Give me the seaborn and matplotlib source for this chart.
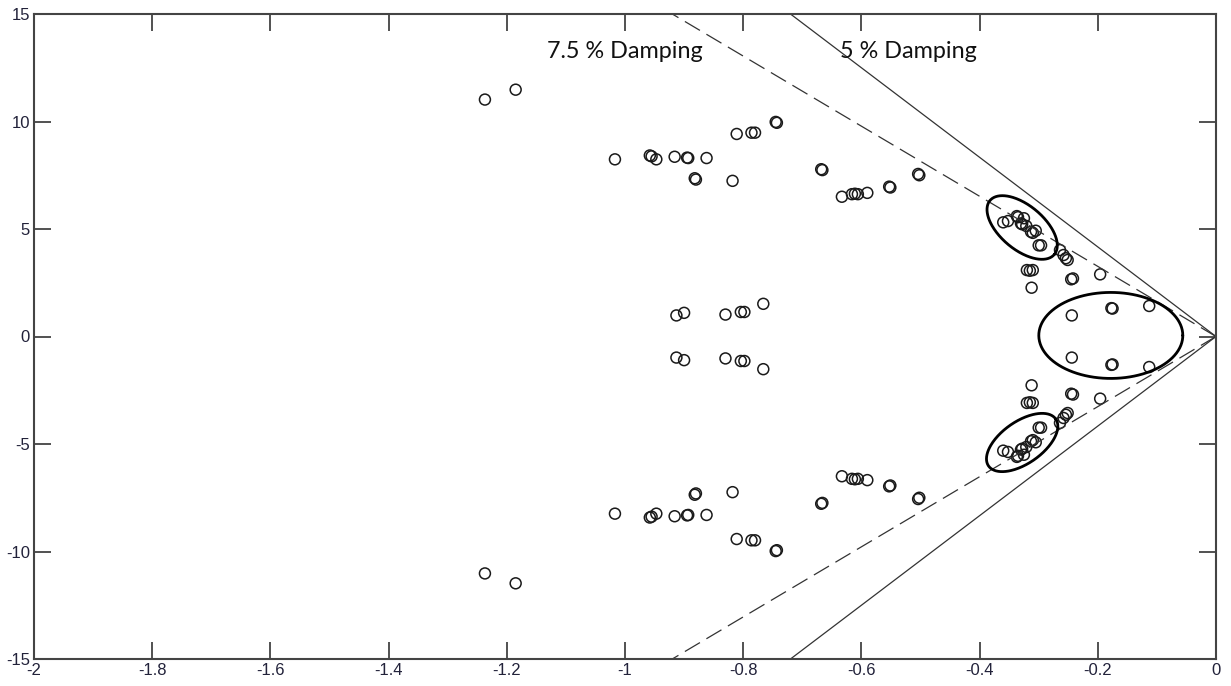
import numpy as np
import pandas as pd
import matplotlib
matplotlib.use("Agg")
import matplotlib.pyplot as plt
import seaborn as sns

# Upper-half eigenvalues (real part, imaginary part); the lower half are their conjugates
eig_real = [
    -1.237, -1.185,
    -1.017, -0.958, -0.955, -0.947, -0.916, -0.895, -0.893, -0.862,
    -0.882, -0.880, -0.818,
    -0.811, -0.786, -0.780,
    -0.745, -0.743,
    -0.668, -0.666,
    -0.633, -0.616, -0.611, -0.606, -0.590,
    -0.553, -0.551,
    -0.504, -0.502,
    -0.360, -0.352, -0.337, -0.335, -0.325, -0.330, -0.328, -0.321,
    -0.313, -0.310, -0.305, -0.300, -0.296,
    -0.264, -0.258, -0.254, -0.251,
    -0.320, -0.315, -0.310,
    -0.312,
    -0.245, -0.242,
    -0.196,
    -0.244,
    -0.177, -0.175,
    -0.113,
    -0.913, -0.900, -0.830, -0.804, -0.798, -0.766,
]
eig_imag = [
    11.02, 11.48,
    8.24, 8.42, 8.38, 8.24, 8.36, 8.32, 8.30, 8.30,
    7.36, 7.30, 7.24,
    9.42, 9.48, 9.48,
    9.98, 9.94,
    7.78, 7.74,
    6.50, 6.62, 6.64, 6.62, 6.68,
    6.97, 6.93,
    7.56, 7.50,
    5.31, 5.37, 5.60, 5.55, 5.50, 5.26, 5.22, 5.14,
    4.87, 4.82, 4.92, 4.24, 4.24,
    4.02, 3.79, 3.64, 3.56,
    3.09, 3.06, 3.09,
    2.27,
    2.66, 2.70,
    2.89,
    0.98,
    1.32, 1.30,
    1.42,
    0.98, 1.10, 1.02, 1.14, 1.14, 1.52,
]

# Damping boundary rays from the origin: real part reached at |imag| = 15
damping_labels = ["5 % Damping", "7.5 % Damping"]
damping_real_at_edge = [-0.72, -0.92]
damping_styles = ["-", "--"]
label_x = [-0.520, -1.0]
label_y = 13.25

x_ticks = [-2, -1.8, -1.6, -1.4, -1.2, -1, -0.8, -0.6, -0.4, -0.2, 0]
y_ticks = [-15, -10, -5, 0, 5, 10, 15]

df = pd.DataFrame({
    "real": np.concatenate([eig_real, eig_real]),
    "imag": np.concatenate([eig_imag, -np.array(eig_imag)]),
})

sns.set_style("white")
plt.rcParams["font.family"] = ["Liberation Sans", "DejaVu Sans"]
plt.rcParams["axes.unicode_minus"] = False

fig = plt.figure(figsize=(12.31, 6.86), dpi=100)
ax = fig.add_axes([34 / 1231, 1 - 659 / 686, 1182 / 1231, 645 / 686])

sns.scatterplot(data=df, x="real", y="imag", ax=ax, marker="o", s=62,
                facecolors="none", edgecolors="#1a1a1a", linewidth=1.1,
                legend=False)

for edge_x, style in zip(damping_real_at_edge, damping_styles):
    kw = dict(color="#333333", lw=0.9)
    if style == "--":
        kw["dashes"] = (14, 6)
    ax.plot([0, edge_x], [0, 15], style, **kw)
    ax.plot([0, edge_x], [0, -15], style, **kw)

for txt, lx in zip(damping_labels, label_x):
    ax.text(lx, label_y, txt, ha="center", va="center",
            fontsize=16.8, family=["Lato", "DejaVu Sans"], color="#111111")

# Highlight ellipses drawn in screen-pixel units around the centre points
px_per_x = 1182 / 2.0
px_per_y = 645 / 30.0
def pixel_ellipse(cx, cy, a, b, angle_deg):
    t = np.linspace(0, 2 * np.pi, 300)
    th = np.deg2rad(angle_deg)
    dx = a * np.cos(t) * np.cos(th) - b * np.sin(t) * np.sin(th)
    dy = a * np.cos(t) * np.sin(th) + b * np.sin(t) * np.cos(th)
    ax.plot(cx + dx / px_per_x, cy + dy / px_per_y, color="black", lw=2.0)

pixel_ellipse(-0.328, 5.07, 42, 22, -40)
pixel_ellipse(-0.328, -4.93, 41, 21, 35)
pixel_ellipse(-0.178, 0.05, 72, 43, 0)

ax.set_xlim(-2, 0)
ax.set_ylim(-15, 15)
ax.set_xticks(x_ticks)
ax.set_xticklabels([f"{v:g}" for v in x_ticks])
ax.set_yticks(y_ticks)
ax.set_yticklabels([f"{v:g}" for v in y_ticks])
ax.set_xlabel("")
ax.set_ylabel("")
ax.tick_params(direction="in", length=12, width=1.2, color="#333333",
               top=True, right=True, bottom=True, left=True,
               labelsize=12, labelcolor="#22223a", pad=3)
for sp in ax.spines.values():
    sp.set_visible(True)
    sp.set_color("#444444")
    sp.set_linewidth(1.5)

fig.savefig("out.png", dpi=100)
